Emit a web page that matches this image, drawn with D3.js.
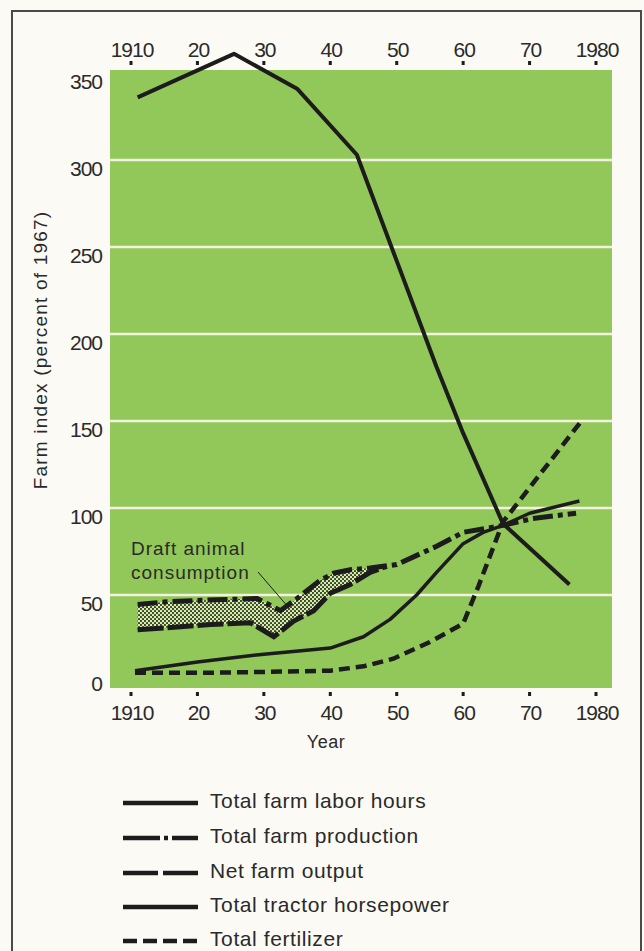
<!DOCTYPE html>
<html><head><meta charset="utf-8">
<script src="https://cdn.jsdelivr.net/npm/d3@7"></script>
<style>
html,body{margin:0;padding:0;background:#fbfaf5;}
svg{display:block;}
text{font-family:"Liberation Sans",Arial,sans-serif;fill:#2a2a2a;}
</style></head>
<body>
<svg id="chart" width="644" height="951"></svg>
<script>
// ---- data ----
const xTickYears = [1910, 1920, 1930, 1940, 1950, 1960, 1970, 1980];
const xTickLabels = ["1910", "20", "30", "40", "50", "60", "70", "1980"];
const yTicks = [0, 50, 100, 150, 200, 250, 300, 350];
const gridValues = [50, 100, 150, 200, 250, 300];

const laborYears = [1911, 1925.5, 1935, 1944, 1950, 1956, 1960, 1966, 1976];
const laborValues = [336, 361, 341, 303, 242, 181, 143, 91, 56];

const productionYears = [1911, 1915, 1921, 1929, 1932.5, 1935, 1938.5, 1940.5, 1943, 1946, 1950, 1956, 1960, 1966, 1970.5, 1977];
const productionValues = [44.5, 46, 47, 48, 41, 48, 58.5, 62.5, 64.5, 65.5, 67.5, 78, 86, 90, 94, 97];

const netOutputYears = [1911, 1922, 1928, 1931.5, 1934.5, 1937.5, 1940, 1943, 1946, 1948.5];
const netOutputValues = [30, 33, 34, 26, 35, 41, 51, 56, 63, 66.5];

const tractorYears = [1910.6, 1920, 1930, 1940, 1945, 1949, 1953, 1956, 1960, 1963, 1966, 1970, 1977.5];
const tractorValues = [6.5, 11.5, 16, 19.5, 26, 36, 50, 63, 79.5, 86, 90, 97, 104];

const fertilizerYears = [1910.6, 1921, 1930, 1940, 1945, 1949.5, 1955, 1960, 1962.3, 1966, 1977.6];
const fertilizerValues = [5.3, 5.3, 5.8, 6.5, 9, 13.4, 23, 33.5, 55, 92, 149];

const legendLabels = ["Total farm labor hours", "Total farm production", "Net farm output", "Total tractor horsepower", "Total fertilizer"];

// ---- drawing ----
const svg = d3.select("#chart");
const x = d3.scaleLinear().domain([1910, 1980]).range([131, 596]);
const y = d3.scaleLinear().domain([0, 350]).range([682, 73]);
const ink = "#1c1c1c";

// frame
svg.append("rect").attr("x", 12).attr("y", 11).attr("width", 629).attr("height", 960)
  .attr("fill", "none").attr("stroke", "#4a4a4a").attr("stroke-width", 2);

// stipple pattern
const defs = svg.append("defs");
const pat = defs.append("pattern").attr("id", "stip").attr("patternUnits", "userSpaceOnUse")
  .attr("width", 4).attr("height", 4);
pat.append("rect").attr("width", 4).attr("height", 4).attr("fill", "#d9ebb0");
pat.append("circle").attr("cx", 1).attr("cy", 1).attr("r", 1.05).attr("fill", "#2b3a1c");
pat.append("circle").attr("cx", 3).attr("cy", 3).attr("r", 1.05).attr("fill", "#2b3a1c");

// green plot background
svg.append("rect").attr("x", 110).attr("y", 70).attr("width", 502).attr("height", 618)
  .attr("fill", "#92c759");

// gridlines
svg.append("g").selectAll("line").data(gridValues).join("line")
  .attr("x1", 110).attr("x2", 612)
  .attr("y1", d => y(d)).attr("y2", d => y(d))
  .attr("stroke", "#f4f2de").attr("stroke-width", 2.5);

// y tick labels
svg.append("g").selectAll("text").data(yTicks).join("text")
  .attr("x", 102).attr("y", d => y(d) + (d > 0 ? 8 : 1))
  .attr("text-anchor", "end").attr("dominant-baseline", "central")
  .attr("font-size", 21).attr("letter-spacing", -1)
  .text(d => d);

// x ticks (top & bottom)
const tickPairs = xTickYears.map((v, i) => ({v, l: xTickLabels[i]}));
[{ty: 63, ly: 49}, {ty: 694, ly: 712}].forEach(o => {
  const g = svg.append("g");
  g.selectAll("rect").data(tickPairs).join("rect")
    .attr("x", d => x(d.v) - 1.5).attr("y", o.ty - 2).attr("width", 3).attr("height", 4)
    .attr("fill", ink);
  g.selectAll("text").data(tickPairs).join("text")
    .attr("x", d => x(d.v) + 1).attr("y", o.ly)
    .attr("text-anchor", "middle").attr("dominant-baseline", "central")
    .attr("font-size", 21).attr("letter-spacing", -1)
    .text(d => d.l);
});

// axis titles
svg.append("text").attr("x", 326).attr("y", 742).attr("text-anchor", "middle")
  .attr("dominant-baseline", "central").attr("font-size", 18).attr("letter-spacing", 0.5).text("Year");
svg.append("text").attr("transform", "translate(40,350) rotate(-90)")
  .attr("text-anchor", "middle").attr("dominant-baseline", "central")
  .attr("font-size", 19).attr("letter-spacing", 1.2).text("Farm index (percent of 1967)");

const pts = (ys, vs) => ys.map((yr, i) => [yr, vs[i]]);
const line = d3.line().x(d => x(d[0])).y(d => y(d[1]));

// draft animal stipple band (between production and net output)
const prodPts = pts(productionYears, productionValues);
const netPts = pts(netOutputYears, netOutputValues);
const bandTop = prodPts.filter(p => p[0] <= 1948.5);
const bandPoly = bandTop.concat([[1948.5, 66.5]]).concat(netPts.slice().reverse());
svg.append("path").attr("d", line(bandPoly) + "Z").attr("fill", "url(#stip)").attr("stroke", "none");

// series
svg.append("path").attr("d", line(pts(fertilizerYears, fertilizerValues)))
  .attr("fill", "none").attr("stroke", ink).attr("stroke-width", 4.5).attr("stroke-dasharray", "11 6");
svg.append("path").attr("d", line(pts(tractorYears, tractorValues)))
  .attr("fill", "none").attr("stroke", ink).attr("stroke-width", 3.5).attr("stroke-linejoin", "round");
svg.append("path").attr("d", line(netPts))
  .attr("fill", "none").attr("stroke", ink).attr("stroke-width", 5).attr("stroke-dasharray", "26 4");
svg.append("path").attr("d", line(prodPts))
  .attr("fill", "none").attr("stroke", ink).attr("stroke-width", 5).attr("stroke-dasharray", "20 5 5 5");
svg.append("path").attr("d", line(pts(laborYears, laborValues)))
  .attr("fill", "none").attr("stroke", ink).attr("stroke-width", 4).attr("stroke-linejoin", "round");

// draft animal annotation
svg.append("text").attr("x", 131).attr("y", 548).attr("dominant-baseline", "central")
  .attr("font-size", 19).attr("letter-spacing", 1).text("Draft animal");
svg.append("text").attr("x", 131).attr("y", 572).attr("dominant-baseline", "central")
  .attr("font-size", 19).attr("letter-spacing", 1).text("consumption");
svg.append("line").attr("x1", 258).attr("y1", 572).attr("x2", 289).attr("y2", 608)
  .attr("stroke", ink).attr("stroke-width", 1);

// legend
const legendStyles = [
  {dash: null}, {dash: "37 4 4 4"}, {dash: "35 5"}, {dash: null}, {dash: "14 6"}
];
const legendRowY = [800, 835, 870, 904, 938];
const lg = svg.append("g");
legendLabels.forEach((lab, i) => {
  const yy = legendRowY[i];
  const l = lg.append("line").attr("x1", 123).attr("x2", 198).attr("y1", yy + 3).attr("y2", yy + 3)
    .attr("stroke", ink).attr("stroke-width", 4.5);
  if (legendStyles[i].dash) l.attr("stroke-dasharray", legendStyles[i].dash);
  lg.append("text").attr("x", 210).attr("y", yy).attr("dominant-baseline", "central")
    .attr("font-size", 21).attr("letter-spacing", 0.6).text(lab);
});
</script>
</body></html>
